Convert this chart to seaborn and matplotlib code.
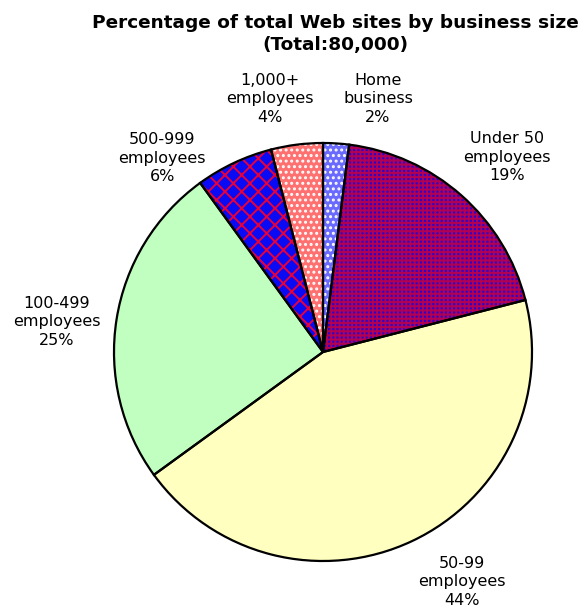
import matplotlib
matplotlib.use("Agg")
import matplotlib.pyplot as plt
import seaborn as sns

# Share of total Web sites by business size (total 80,000)
categories = ["Home\nbusiness", "Under 50\nemployees", "50-99\nemployees",
              "100-499\nemployees", "500-999\nemployees", "1,000+\nemployees"]
shares = [2, 19, 44, 25, 6, 4]

# Fill styles per slice: face colour, hatch pattern, hatch colour
face_colors = ["#6a6aff", "#3000c8", "#ffffc0", "#c0ffc0", "#0a0af5", "#ff7070"]
hatches = ["...", "++++", None, None, "xx", "..."]
hatch_colors = ["white", "#b40050", "black", "black", "#e8003a", "white"]

# Label anchor points in pie-radius units
label_pos = [(0.263, 1.211), (0.880, 0.933), (0.665, -1.100),
             (-1.273, 0.144), (-0.770, 0.928), (-0.254, 1.211)]

sns.set_theme(style="white")
plt.rcParams["font.family"] = ["DejaVu Sans"]
plt.rcParams["text.color"] = "black"
plt.rcParams["hatch.linewidth"] = 1.4

W, H = 582, 616
cx, cy, R = 323, 352, 209
fig = plt.figure(figsize=(W / 100, H / 100), dpi=100)
ax = fig.add_axes([0, 0, 1, 1])

# Filled, hatched wedges
wedges, _ = ax.pie(shares, startangle=90, counterclock=False,
                   colors=face_colors, wedgeprops=dict(linewidth=0))
for w, h, hc in zip(wedges, hatches, hatch_colors):
    if h:
        w.set_hatch(h)
    w.set_edgecolor(hc)
    w.set_linewidth(0)

# Black outlines on top
ax.pie(shares, startangle=90, counterclock=False,
       wedgeprops=dict(fill=False, edgecolor="black", linewidth=1.6))

for name, val, (lx, ly) in zip(categories, shares, label_pos):
    ax.text(lx, ly, f"{name}\n{val}%", ha="center", va="center",
            fontsize=11.5, color="black", linespacing=1.3)

ax.set_xlim(-cx / R, (W - cx) / R)
ax.set_ylim(-(H - cy) / R, cy / R)
ax.set_aspect("equal")
ax.axis("off")

fig.text(335 / W, 1 - 34 / H,
         "Percentage of total Web sites by business size\n(Total:80,000)",
         ha="center", va="center", fontsize=13.3, fontweight="bold",
         color="black", linespacing=1.3)

fig.savefig("out.png", dpi=100, facecolor="white")
